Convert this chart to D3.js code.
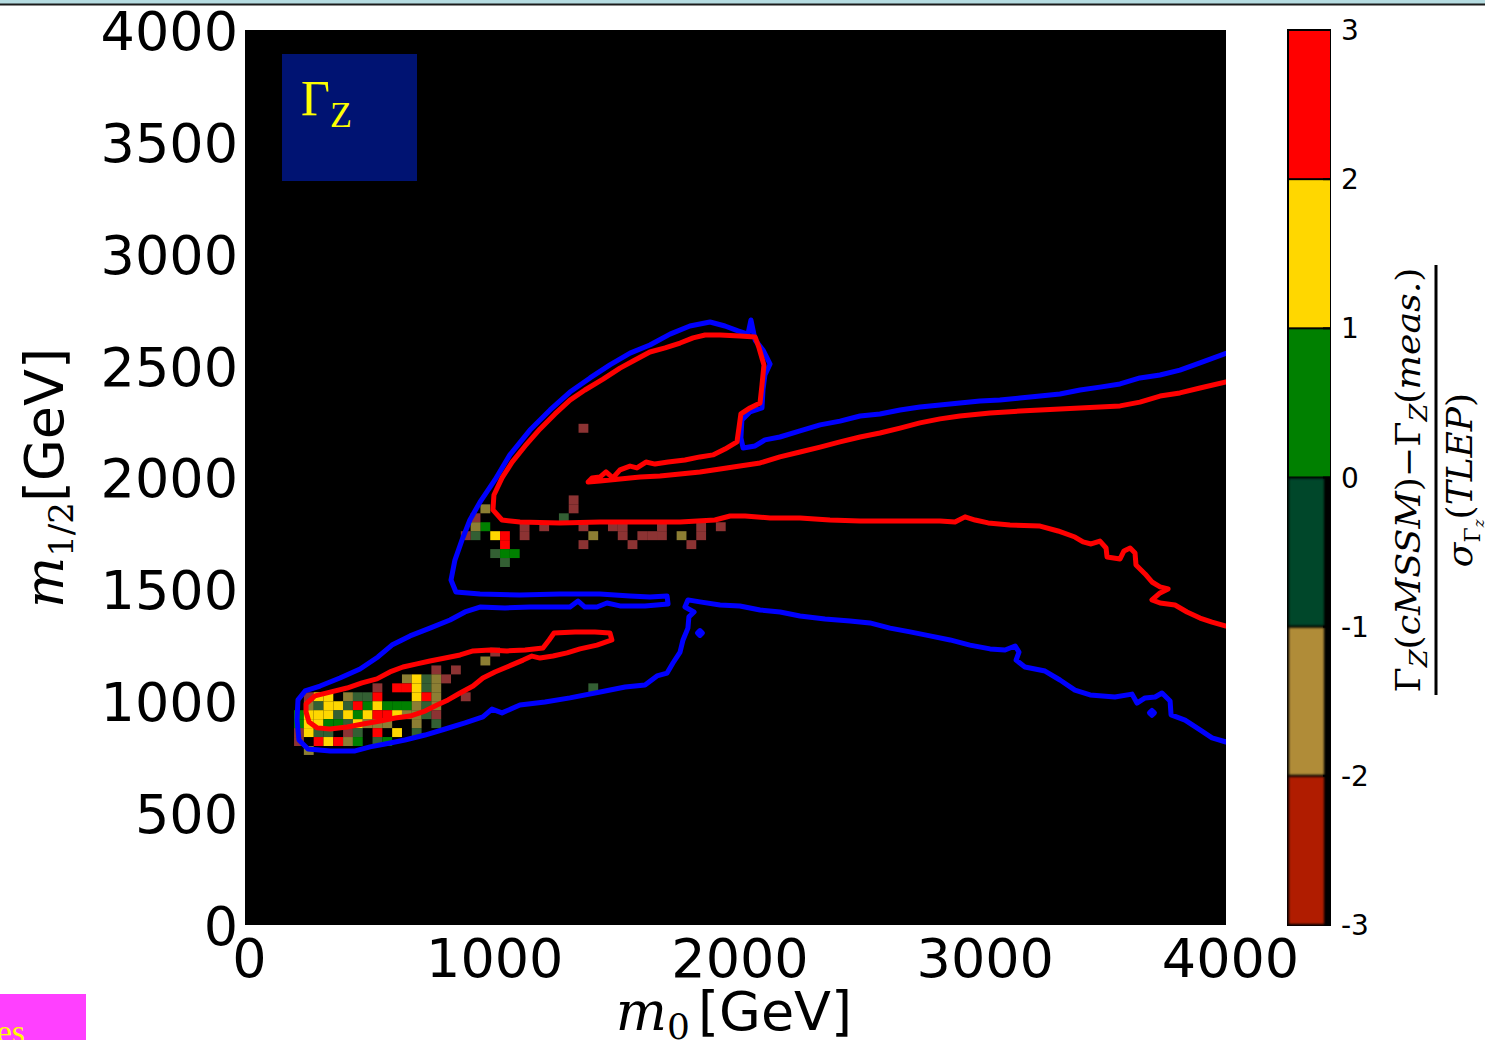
<!DOCTYPE html>
<html>
<head>
<meta charset="utf-8">
<script src="https://cdn.jsdelivr.net/npm/d3@7"></script>
<style>
  body { margin: 0; background: #ffffff; }
  svg { display: block; }
</style>
</head>
<body>
<svg id="chart" width="1485" height="1040"></svg>
<script>
// ---- axis ticks ----
const xTicks = [0, 1000, 2000, 3000, 4000];
const yTicks = [0, 500, 1000, 1500, 2000, 2500, 3000, 3500, 4000];
const pullTicks = [3, 2, 1, 0, -1, -2, -3];

// ---- colour bins of the pull (model - measurement) / sigma ----
const pullEdges = [-3, -2, -1, 0, 1, 2, 3];
const pullColors = ["#b01e00", "#b08c38", "#06472a", "#008000", "#ffd700", "#ff0000"];

// ---- grid bin size in GeV ----
const binSize = 40;

// ---- pull per (m0, m1/2) bin: [m0 low edge, m1/2 low edge, pull, sparse flag] ----
const pullCells = [
  [1000, 1200, 2.5, 1],
  [960, 1160, 1.5, 1],
  [760, 1120, 2.5, 1], [840, 1120, 2.5, 1],
  [640, 1080, 1.5, 1], [680, 1080, 1.5, 0], [720, 1080, 0.5, 1], [760, 1080, 1.5, 1], [800, 1080, 2.5, 1],
  [520, 1040, 2.5, 1], [600, 1040, 2.5, 0], [640, 1040, 2.5, 0], [680, 1040, 1.5, 0], [720, 1040, 0.5, 1], [760, 1040, 1.5, 1], [1400, 1040, 0.5, 1],
  [240, 1000, 2.5, 1], [280, 1000, 1.5, 0], [320, 1000, 1.5, 0], [400, 1000, 1.5, 1], [440, 1000, 0.5, 1], [480, 1000, 0.5, 1], [520, 1000, 2.5, 0], [680, 1000, 1.5, 0], [720, 1000, 2.5, 0], [760, 1000, 1.5, 1], [880, 1000, 2.5, 1],
  [240, 960, 1.5, 1], [280, 960, 0.5, 1], [320, 960, 1.5, 0], [360, 960, 1.5, 0], [400, 960, 0.5, 1], [440, 960, 2.5, 0], [480, 960, 0.5, 0], [520, 960, 1.5, 0], [560, 960, 0.5, 0], [600, 960, 0.5, 0], [640, 960, 0.5, 0], [680, 960, 1.5, 1], [720, 960, 0.5, 1], [760, 960, 1.5, 1],
  [200, 920, 0.5, 0], [240, 920, 1.5, 0], [280, 920, 1.5, 0], [320, 920, 1.5, 0], [360, 920, 0.5, 1], [400, 920, 1.5, 0], [440, 920, 0.5, 0], [480, 920, 1.5, 0], [520, 920, 2.5, 0], [560, 920, 2.5, 0], [600, 920, 1.5, 0], [640, 920, 1.5, 1], [680, 920, 1.5, 1], [720, 920, 0.5, 1], [760, 920, 2.5, 1],
  [200, 880, 0.5, 0], [240, 880, 1.5, 0], [280, 880, 1.5, 0], [320, 880, 0.5, 0], [360, 880, 0.5, 0], [400, 880, 0.5, 1], [440, 880, 1.5, 0], [480, 880, 1.5, 1], [520, 880, 1.5, 1], [560, 880, 1.5, 1], [680, 880, 1.5, 1], [760, 880, 0.5, 1],
  [200, 840, 2.5, 1], [240, 840, 1.5, 0], [280, 840, 0.5, 1], [320, 840, 0.5, 1], [400, 840, 2.5, 1], [440, 840, 0.5, 1], [520, 840, 2.5, 0], [600, 840, 1.5, 0], [680, 840, 0.5, 1],
  [200, 800, 2.5, 1], [280, 800, 2.5, 0], [320, 800, 1.5, 0], [360, 800, 2.5, 0], [400, 800, 1.5, 1], [440, 800, 0.5, 0], [520, 800, 0.5, 1], [560, 800, 0.5, 0],
  [240, 760, 1.5, 1],
  [1360, 2200, 2.5, 1],
  [1320, 1840, 2.5, 1], [1320, 1880, 2.5, 1],
  [1280, 1800, 0.5, 1],
  [960, 1840, 1.5, 1],
  [920, 1800, 2.5, 1], [960, 1760, 0.5, 0], [920, 1760, 1.5, 1], [920, 1720, 0.5, 1], [880, 1720, 2.5, 1],
  [1000, 1720, 1.5, 0], [1040, 1680, 2.5, 0], [1040, 1720, 2.5, 0],
  [1000, 1640, 0.5, 1], [1040, 1640, 0.5, 0], [1080, 1640, 0.5, 0], [1040, 1600, 0.5, 1],
  [1120, 1720, 2.5, 1], [1120, 1760, 2.5, 1],
  [1200, 1760, 2.5, 1],
  [1360, 1760, 2.5, 1], [1360, 1680, 2.5, 1],
  [1400, 1720, 1.5, 1],
  [1480, 1760, 2.5, 1], [1520, 1720, 2.5, 1], [1520, 1760, 2.5, 1], [1560, 1680, 2.5, 1],
  [1600, 1720, 2.5, 1], [1640, 1720, 2.5, 1], [1680, 1720, 2.5, 1], [1680, 1760, 2.5, 1],
  [1760, 1720, 1.5, 1], [1800, 1680, 2.5, 1], [1840, 1720, 2.5, 1], [1840, 1760, 2.5, 1], [1920, 1760, 2.5, 1]
];

// ---- 95% CL contour (blue), main open branch in (m0, m1/2) GeV ----
const blueContour = [
  [4000, 2555], [3894, 2512], [3812, 2480], [3731, 2458], [3649, 2445], [3568, 2418], [3486, 2404],
  [3405, 2391], [3323, 2373], [3242, 2364], [3160, 2355], [3078, 2346], [2997, 2342], [2915, 2333],
  [2834, 2324], [2752, 2315], [2671, 2302], [2589, 2284], [2508, 2275], [2426, 2252], [2345, 2235],
  [2263, 2208], [2181, 2181], [2120, 2168], [2080, 2141], [2031, 2132], [2022, 2177], [2026, 2257],
  [2059, 2293], [2108, 2311], [2112, 2391], [2120, 2458], [2141, 2507], [2112, 2570], [2080, 2614],
  [2063, 2704], [2051, 2641], [2010, 2655], [1957, 2677], [1896, 2695], [1814, 2677], [1733, 2641],
  [1651, 2592], [1570, 2556], [1488, 2503], [1407, 2445], [1325, 2382], [1244, 2302], [1162, 2212],
  [1080, 2101], [1019, 1989], [958, 1890], [917, 1810], [885, 1721], [856, 1631], [840, 1542],
  [860, 1488], [958, 1479], [1121, 1475], [1284, 1479], [1447, 1479], [1570, 1470], [1651, 1466],
  [1721, 1470], [1725, 1435], [1631, 1426], [1529, 1426], [1476, 1439], [1435, 1421], [1386, 1421],
  [1358, 1448], [1325, 1421], [1244, 1421], [1162, 1421], [1060, 1417], [958, 1421], [897, 1399],
  [836, 1363], [754, 1327], [673, 1292], [599, 1251], [542, 1198], [469, 1144], [387, 1104],
  [306, 1068], [245, 1046], [216, 1006], [212, 916], [220, 827], [257, 787], [347, 778], [449, 778],
  [510, 796], [571, 809], [652, 827], [734, 849], [816, 876], [897, 903], [970, 930], [1007, 965],
  [1048, 948], [1121, 983], [1223, 997], [1325, 1015], [1448, 1041], [1550, 1064], [1631, 1073],
  [1680, 1113], [1721, 1126], [1745, 1171], [1774, 1220], [1786, 1274], [1806, 1327], [1810, 1377],
  [1831, 1399], [1794, 1421], [1806, 1453], [1855, 1444], [1937, 1430], [2018, 1426], [2100, 1408],
  [2182, 1399], [2263, 1381], [2365, 1368], [2467, 1359], [2548, 1350], [2630, 1327], [2712, 1310],
  [2793, 1292], [2875, 1274], [2956, 1251], [3038, 1234], [3099, 1229], [3140, 1247], [3156, 1220],
  [3144, 1184], [3180, 1153], [3262, 1135], [3323, 1095], [3384, 1050], [3446, 1028], [3547, 1019],
  [3617, 1032], [3637, 992], [3670, 1015], [3711, 1019], [3739, 1037], [3772, 1001], [3776, 939],
  [3833, 916], [3894, 872], [3943, 836], [4000, 818]
];
// small isolated islands of the 95% CL region
const blueIslandA = [[1845, 1305], [1855, 1316], [1865, 1305], [1855, 1294]];
const blueIslandB = [[3688, 948], [3698, 959], [3708, 948], [3698, 937]];

// ---- 68% CL contour (red), main open branch ----
const redContour = [
  [4000, 2427], [3894, 2400], [3812, 2378], [3731, 2364], [3649, 2337], [3568, 2320], [3486, 2315],
  [3323, 2306], [3160, 2297], [3038, 2288], [2915, 2275], [2834, 2262], [2752, 2244], [2671, 2221],
  [2589, 2199], [2508, 2181], [2426, 2159], [2345, 2136], [2263, 2114], [2181, 2092], [2100, 2065],
  [2018, 2051], [1937, 2038], [1855, 2025], [1774, 2016], [1692, 2007], [1611, 2002], [1529, 1993],
  [1447, 1984], [1399, 1980], [1415, 1998], [1447, 2002], [1472, 2025], [1500, 1998], [1529, 2034],
  [1570, 2051], [1598, 2043], [1635, 2069], [1672, 2060], [1725, 2069], [1794, 2078], [1855, 2092],
  [1908, 2101], [1957, 2127], [2006, 2159], [2014, 2221], [2022, 2284], [2059, 2311], [2100, 2333],
  [2108, 2413], [2116, 2503], [2096, 2579], [2080, 2628], [2018, 2632], [1937, 2637], [1876, 2637],
  [1827, 2624], [1774, 2601], [1713, 2579], [1651, 2561], [1590, 2525], [1529, 2489], [1460, 2440],
  [1386, 2391], [1325, 2346], [1264, 2284], [1203, 2217], [1142, 2141], [1089, 2069], [1048, 1998],
  [1015, 1922], [1011, 1855], [1048, 1810], [1121, 1801], [1284, 1797], [1447, 1801], [1611, 1801],
  [1774, 1801], [1916, 1810], [1978, 1828], [2039, 1828], [2141, 1819], [2263, 1819], [2385, 1810],
  [2508, 1806], [2671, 1806], [2834, 1806], [2895, 1801], [2936, 1824], [2977, 1810], [3030, 1797],
  [3119, 1788], [3242, 1783], [3315, 1761], [3384, 1734], [3417, 1712], [3450, 1703], [3486, 1716],
  [3511, 1685], [3515, 1645], [3568, 1636], [3584, 1672], [3609, 1685], [3629, 1663], [3633, 1609],
  [3670, 1569], [3698, 1533], [3731, 1511], [3764, 1502], [3731, 1484], [3698, 1453], [3731, 1439],
  [3792, 1430], [3841, 1399], [3894, 1372], [3943, 1354], [4000, 1336]
];
// closed 68% CL island at low m0
const redIsland = [
  [249, 988], [285, 1024], [347, 1041], [416, 1059], [477, 1082], [538, 1100], [591, 1131], [644, 1153],
  [701, 1167], [754, 1180], [816, 1193], [877, 1207], [930, 1225], [999, 1229], [1068, 1225], [1142, 1229],
  [1215, 1238], [1240, 1274], [1260, 1305], [1346, 1310], [1427, 1310], [1488, 1305], [1496, 1274],
  [1435, 1251], [1366, 1234], [1313, 1216], [1256, 1202], [1203, 1193], [1170, 1202], [1134, 1184],
  [1068, 1153], [1019, 1131], [970, 1104], [930, 1068], [877, 1037], [828, 1006], [783, 983], [734, 956],
  [673, 934], [612, 925], [551, 912], [481, 898], [416, 885], [347, 876], [294, 881], [261, 907], [249, 952]
];

// ---- layout ----
const W = 1485, H = 1040;
const plot = { left: 245, right: 1226, top: 30, bottom: 925 };
const cbar = { left: 1287, right: 1331 };

const svg = d3.select("#chart");

const x = d3.scaleLinear().domain([0, 4000]).range([plot.left, plot.right]);
const y = d3.scaleLinear().domain([0, 4000]).range([plot.bottom, plot.top]);
const pullScale = d3.scaleLinear().domain([-3, 3]).range([plot.bottom, plot.top]);
const pullColor = d3.scaleThreshold().domain(pullEdges.slice(1, -1)).range(pullColors);
const sparseColor = c => d3.interpolateRgb(c, "#909090")(0.5);

// thin page band at the very top
svg.append("rect").attr("x", 0).attr("y", 0).attr("width", W).attr("height", 4).attr("fill", "#b5dce1");
svg.append("line").attr("x1", 0).attr("x2", W).attr("y1", 4.5).attr("y2", 4.5)
  .attr("stroke", "#1c1c1c").attr("stroke-width", 2);

// plot background
svg.append("rect")
  .attr("x", plot.left).attr("y", plot.top)
  .attr("width", plot.right - plot.left).attr("height", plot.bottom - plot.top)
  .attr("fill", "#000");

svg.append("clipPath").attr("id", "plotClip")
  .append("rect")
  .attr("x", plot.left).attr("y", plot.top)
  .attr("width", plot.right - plot.left).attr("height", plot.bottom - plot.top);

const inner = svg.append("g").attr("clip-path", "url(#plotClip)");

// pull cells
const cw = x(binSize) - x(0);
const ch = y(0) - y(binSize);
inner.append("g").selectAll("rect")
  .data(pullCells)
  .join("rect")
  .attr("x", d => x(d[0]))
  .attr("y", d => y(d[1] + binSize))
  .attr("width", cw)
  .attr("height", ch)
  .attr("fill", d => d[3] ? sparseColor(pullColor(d[2])) : pullColor(d[2]))
  .attr("fill-opacity", d => d[3] ? 0.7 : 1);

// contours
const lineOpen = d3.line().x(d => x(d[0])).y(d => y(d[1]));
const lineClosed = d3.line().x(d => x(d[0])).y(d => y(d[1])).curve(d3.curveLinearClosed);

const contourStyle = (sel, col) => sel
  .attr("fill", "none").attr("stroke", col).attr("stroke-width", 5)
  .attr("stroke-linejoin", "round").attr("stroke-linecap", "round");

inner.append("path").datum(blueContour).attr("d", lineOpen).call(contourStyle, "#0000ff");
inner.append("path").datum(blueIslandA).attr("d", lineClosed).call(contourStyle, "#0000ff");
inner.append("path").datum(blueIslandB).attr("d", lineClosed).call(contourStyle, "#0000ff");
inner.append("path").datum(redContour).attr("d", lineOpen).call(contourStyle, "#ff0000");
inner.append("path").datum(redIsland).attr("d", lineClosed).call(contourStyle, "#ff0000");

// observable label box
svg.append("rect").attr("x", 282).attr("y", 54).attr("width", 135).attr("height", 127).attr("fill", "#001372");
const obs = svg.append("text").attr("x", 301).attr("y", 115)
  .attr("font-family", "Liberation Serif, serif").attr("fill", "#ffff00");
obs.append("tspan").attr("font-size", 50).text("Γ");
obs.append("tspan").attr("font-size", 36).attr("dy", 12).text("Z");

// axes
const tickFont = "DejaVu Sans, sans-serif";
const xAxis = svg.append("g").attr("transform", `translate(0,${plot.bottom})`)
  .call(d3.axisBottom(x).tickValues(xTicks).tickSize(0).tickFormat(d3.format("d")));
xAxis.select(".domain").remove();
xAxis.selectAll("text")
  .attr("font-family", tickFont).attr("font-size", 54).attr("fill", "#000")
  .attr("dy", null).attr("y", 52).attr("dx", 4);

const yAxis = svg.append("g").attr("transform", `translate(${plot.left},0)`)
  .call(d3.axisLeft(y).tickValues(yTicks).tickSize(0).tickFormat(d3.format("d")));
yAxis.select(".domain").remove();
yAxis.selectAll("text")
  .attr("font-family", tickFont).attr("font-size", 54).attr("fill", "#000")
  .attr("x", -7).attr("dy", "0.36em");

// axis titles
const xt = svg.append("text").attr("x", 734).attr("y", 1030).attr("text-anchor", "middle").attr("fill", "#000");
xt.append("tspan").attr("font-family", "DejaVu Serif, serif").attr("font-style", "italic").attr("font-size", 54).text("m");
xt.append("tspan").attr("font-family", "DejaVu Serif, serif").attr("font-size", 36).attr("dy", 9).text("0");
xt.append("tspan").attr("font-family", tickFont).attr("font-size", 54).attr("dy", -9).attr("dx", 8).text("[GeV]");

const yt = svg.append("text").attr("transform", "translate(63,478) rotate(-90)")
  .attr("text-anchor", "middle").attr("fill", "#000");
yt.append("tspan").attr("font-family", "DejaVu Serif, serif").attr("font-style", "italic").attr("font-size", 54).text("m");
yt.append("tspan").attr("font-family", "DejaVu Serif, serif").attr("font-size", 34).attr("dy", 10).text("1/2");
yt.append("tspan").attr("font-family", tickFont).attr("font-size", 54).attr("dy", -10).text("[GeV]");

// colour bar
svg.append("rect")
  .attr("x", cbar.left).attr("y", pullScale(3) - 1)
  .attr("width", cbar.right - cbar.left).attr("height", pullScale(-3) - pullScale(3) + 2)
  .attr("fill", "#000");
svg.append("defs").append("filter").attr("id", "soft")
  .append("feGaussianBlur").attr("stdDeviation", 1.2);
const bins = d3.range(pullEdges.length - 1).map(i => [pullEdges[i], pullEdges[i + 1], pullColors[i]]);
svg.append("g").selectAll("rect")
  .data(bins)
  .join("rect")
  .attr("x", cbar.left + 2)
  .attr("y", d => pullScale(d[1]) + 1)
  .attr("width", d => d[1] <= 0 ? cbar.right - cbar.left - 9 : cbar.right - cbar.left - 3)
  .attr("height", d => pullScale(d[0]) - pullScale(d[1]) - 2)
  .attr("fill", d => d[2])
  .attr("filter", d => d[1] <= 0 ? "url(#soft)" : null);

svg.append("g").selectAll("line")
  .data(pullTicks.slice(1, -1))
  .join("line")
  .attr("x1", cbar.right - 8).attr("x2", cbar.right)
  .attr("y1", d => pullScale(d)).attr("y2", d => pullScale(d))
  .attr("stroke", "#000").attr("stroke-width", 2);

svg.append("g").selectAll("text")
  .data(pullTicks)
  .join("text")
  .attr("x", cbar.right + 10)
  .attr("y", d => pullScale(d))
  .attr("dy", "0.36em")
  .attr("font-family", tickFont).attr("font-size", 28).attr("fill", "#000")
  .text(d => d < 0 ? "-" + Math.abs(d) : String(d));

// colour bar title: pull fraction
const cbt = svg.append("g").attr("transform", "translate(1436,480) rotate(-90)");
cbt.append("line").attr("x1", -215).attr("x2", 215).attr("y1", 0).attr("y2", 0)
  .attr("stroke", "#000").attr("stroke-width", 3);
const num = cbt.append("text").attr("x", 0).attr("y", -16).attr("text-anchor", "middle")
  .attr("font-family", "DejaVu Serif, serif").attr("font-size", 34).attr("fill", "#000")
  .attr("textLength", 425).attr("lengthAdjust", "spacingAndGlyphs");
num.append("tspan").text("Γ");
num.append("tspan").attr("font-style", "italic").attr("font-size", 24).attr("dy", 7).text("Z");
num.append("tspan").attr("dy", -7).text("(");
num.append("tspan").attr("font-style", "italic").text("cMSSM");
num.append("tspan").text(")−Γ");
num.append("tspan").attr("font-style", "italic").attr("font-size", 24).attr("dy", 7).text("Z");
num.append("tspan").attr("dy", -7).text("(");
num.append("tspan").attr("font-style", "italic").text("meas.");
num.append("tspan").text(")");

const den = cbt.append("text").attr("x", 0).attr("y", 36).attr("text-anchor", "middle")
  .attr("font-family", "DejaVu Serif, serif").attr("font-size", 36).attr("fill", "#000");
den.append("tspan").attr("font-style", "italic").text("σ");
den.append("tspan").attr("font-size", 22).attr("dy", 8).text("Γ");
den.append("tspan").attr("font-style", "italic").attr("font-size", 15).attr("dy", 4).text("z");
den.append("tspan").attr("dy", -12).text("(");
den.append("tspan").attr("font-style", "italic").text("TLEP");
den.append("tspan").text(")");

// corner tab at the bottom left
svg.append("rect").attr("x", 0).attr("y", 994).attr("width", 86).attr("height", 46).attr("fill", "#ff40ff");
svg.append("text").attr("x", 25).attr("y", 1043).attr("text-anchor", "end")
  .attr("font-family", "Liberation Serif, serif").attr("font-size", 34).attr("fill", "#ffff00").text("es");
</script>
</body>
</html>
